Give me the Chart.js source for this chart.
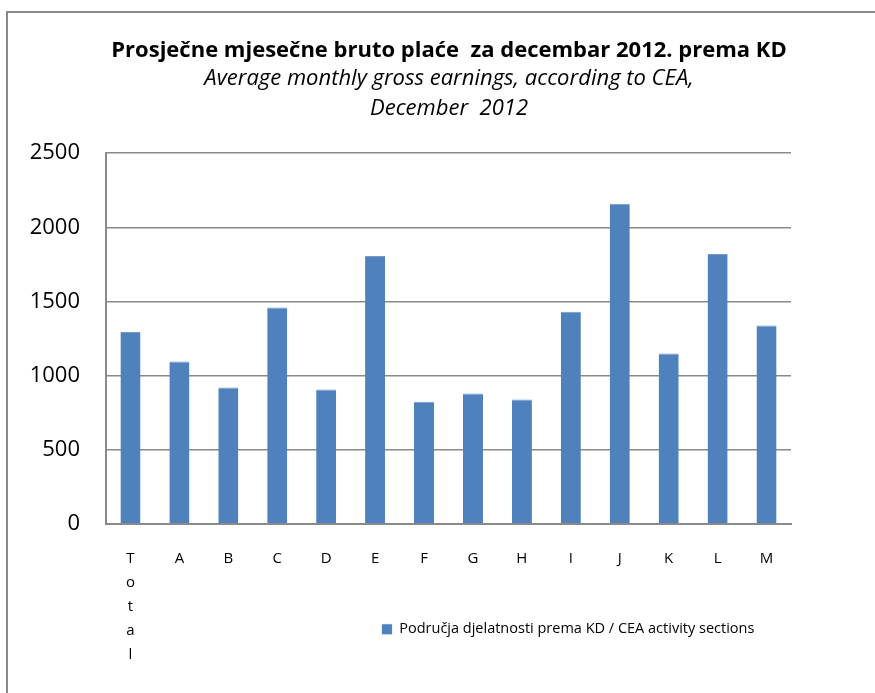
<!DOCTYPE html>
<html lang="hr">
<head>
    <meta charset="UTF-8">
    <title>Prosječne mjesečne bruto plaće - decembar 2012</title>
    <script src="https://cdn.jsdelivr.net/npm/chart.js"></script>
    <style>
        html, body { margin: 0; padding: 0; background: #fff; }
        #wrap { position: relative; width: 875px; height: 693px; overflow: hidden; }
        #frame { position: absolute; left: 6px; top: 11px; width: 900px; height: 720px;
                 border-top: 2px solid #8a8a8a; border-left: 2px solid #8a8a8a; }
        #chart { position: absolute; left: 0; top: 0; }
    </style>
</head>
<body>
<div id="wrap">
    <div id="frame"></div>
    <canvas id="chart" width="875" height="693"></canvas>
</div>

<script>
    // data
    const categories = ['Total', 'A', 'B', 'C', 'D', 'E', 'F', 'G', 'H', 'I', 'J', 'K', 'L', 'M'];
    const earnings = [1295, 1095, 920, 1459, 907, 1807, 824, 880, 839, 1430, 2159, 1149, 1820, 1338];
    const yTicks = [0, 500, 1000, 1500, 2000, 2500];
    const seriesName = 'Područja djelatnosti prema KD / CEA activity sections';

    const FONT = "'Open Sans', 'Noto Sans', sans-serif";
    const GRID = '#8a8a8a';

    // move the legend to where the reference has it
    const legendSpot = {
        id: 'legendSpot',
        afterLayout(chart) {
            const lg = chart.legend;
            if (!lg) return;
            const w = lg.width, h = lg.height;
            lg.left = 382 - 10;
            lg.top = 622 - 10;
            lg.right = lg.left + w;
            lg.bottom = lg.top + h;
        }
    };

    const ctx = document.getElementById('chart').getContext('2d');
    new Chart(ctx, {
        type: 'bar',
        data: {
            labels: categories,
            datasets: [{
                label: seriesName,
                data: earnings,
                backgroundColor: '#4f81bd',
                borderColor: '#7199cb',
                borderWidth: { top: 1, left: 0, right: 0, bottom: 0 },
                barPercentage: 0.41,
                categoryPercentage: 1
            }]
        },
        options: {
            responsive: false,
            animation: false,
            layout: { padding: { top: 20, right: 0, bottom: 0, left: 23 } },
            plugins: {
                title: {
                    display: true,
                    text: 'Prosječne mjesečne bruto plaće  za decembar 2012. prema KD',
                    color: '#000',
                    font: { family: FONT, size: 22, weight: 'bold', lineHeight: 1.05 },
                    padding: { top: 19, bottom: 2 }
                },
                subtitle: {
                    display: true,
                    text: ['Average monthly gross earnings, according to CEA,', 'December  2012'],
                    color: '#000',
                    font: { family: FONT, size: 22, style: 'italic', lineHeight: 1.364 },
                    padding: { top: 0, bottom: 29 }
                },
                legend: {
                    position: 'chartArea',
                    align: 'start',
                    labels: {
                        color: '#000',
                        boxWidth: 10,
                        boxHeight: 10,
                        padding: 10,
                        font: { family: FONT, size: 14.5 }
                    }
                },
                tooltip: { enabled: false }
            },
            scales: {
                x: {
                    grid: { display: false, drawTicks: false },
                    border: { display: true, color: GRID, width: 2 },
                    ticks: {
                        color: '#000',
                        padding: 23,
                        maxRotation: 0,
                        autoSkip: false,
                        font: { family: FONT, size: 15, lineHeight: 1.6 },
                        callback: (v, i) => categories[i] === 'Total' ? categories[i].split('') : categories[i]
                    },
                    afterFit: s => { s.height = 693 - 524; }
                },
                y: {
                    min: 0,
                    max: 2500,
                    afterBuildTicks: s => { s.ticks = yTicks.map(v => ({ value: v })); },
                    grid: { color: GRID, lineWidth: 1.5, drawTicks: false },
                    border: { display: true, color: GRID, width: 2 },
                    ticks: {
                        color: '#000',
                        padding: 26,
                        font: { family: FONT, size: 22 },
                        callback: v => String(v)
                    },
                    afterFit: s => { s.width = 83; }
                },
                // empty space right of the plot, as in the reference
                yRight: {
                    position: 'right',
                    grid: { display: false },
                    border: { display: false },
                    ticks: { display: false },
                    afterFit: s => { s.width = 84; }
                }
            }
        },
        plugins: [legendSpot]
    });
</script>
</body>
</html>
